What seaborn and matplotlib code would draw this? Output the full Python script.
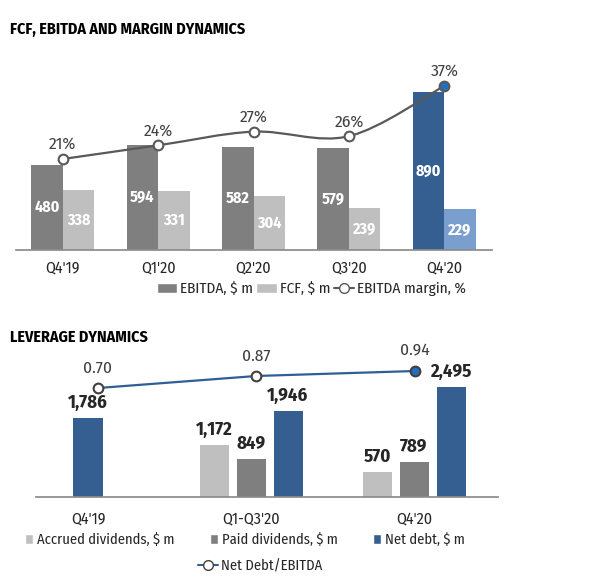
import numpy as np
import pandas as pd
import matplotlib
matplotlib.use("Agg")
import matplotlib.pyplot as plt
from matplotlib import font_manager
from matplotlib.path import Path
from matplotlib.patches import PathPatch, Patch
from matplotlib.lines import Line2D
import seaborn as sns

# top chart data
quarters = ["Q4'19", "Q1'20", "Q2'20", "Q3'20", "Q4'20"]
ebitda = [480, 594, 582, 579, 890]
fcf = [338, 331, 304, 239, 229]
margin = [21, 24, 27, 26, 37]

# bottom chart data
periods = ["Q4'19", "Q1-Q3'20", "Q4'20"]
accrued = [np.nan, 1172, 570]
paid = [np.nan, 849, 789]
net_debt = [1786, 1946, 2495]
leverage = [0.70, 0.87, 0.94]

GREY = "#7f7f7f"
LIGHT = "#bfbfbf"
BLUE = "#365f91"
LIGHTBLUE = "#7a9fcf"
LINE_GREY = "#595959"
LINE_BLUE = "#2f5f97"
DOT_BLUE = "#2170c0"
TXT = "#262626"
LBL = "#404040"

sns.set_theme(style="white")
installed = {f.name for f in font_manager.fontManager.ttflist}
FONT = "Fira Sans Condensed" if "Fira Sans Condensed" in installed else "Liberation Sans"
plt.rcParams["font.family"] = [FONT, "DejaVu Sans"]

W, H = 590, 584
fig = plt.figure(figsize=(W / 100, H / 100), dpi=100)


def px_rect(left, top, right, bottom):
    return [left / W, 1 - bottom / H, (right - left) / W, (bottom - top) / H]


def smooth_path(xs, ys):
    # excel-like smoothed line: catmull-rom segments as cubic beziers
    pts = np.column_stack([xs, ys]).astype(float)
    verts = [pts[0]]
    codes = [Path.MOVETO]
    n = len(pts)
    for i in range(n - 1):
        p0 = pts[i - 1] if i > 0 else pts[i]
        p3 = pts[i + 2] if i + 2 < n else pts[i + 1]
        c1 = pts[i] + (pts[i + 1] - p0) / 6
        c2 = pts[i + 1] - (p3 - pts[i]) / 6
        verts += [c1, c2, pts[i + 1]]
        codes += [Path.CURVE4] * 3
    return Path(verts, codes)


def clean(ax):
    for s in ["left", "right", "top"]:
        ax.spines[s].set_visible(False)
    ax.set_yticks([])
    ax.set_xlabel("")
    ax.set_ylabel("")


# ---------- FCF, EBITDA and margin ----------
ax1 = fig.add_axes(px_rect(16, 50, 492, 250))
top = pd.DataFrame({
    "quarter": quarters * 2,
    "value": ebitda + fcf,
    "series": ["EBITDA, $ m"] * 5 + ["FCF, $ m"] * 5,
})
sns.barplot(data=top, x="quarter", y="value", hue="series", palette=[GREY, LIGHT],
            width=0.66, gap=0, saturation=1, linewidth=0, legend=False, ax=ax1)
ax1.containers[0][4].set_facecolor(BLUE)
ax1.containers[1][4].set_facecolor(LIGHTBLUE)
for c, vals in zip(ax1.containers, [ebitda, fcf]):
    ax1.bar_label(c, labels=[str(v) for v in vals], label_type="center",
                  color="white", fontsize=11.5, fontweight="bold")
ax1.set_xlim(-0.49, 4.5)
ax1.set_ylim(0, 1130)
clean(ax1)
ax1.spines["bottom"].set_color("#8c8c8c")
ax1.tick_params(axis="x", length=0, pad=7, labelsize=11.5, labelcolor=TXT)

ax1b = ax1.twinx()
ax1b.set_ylim(1.05, 44.9)
ax1b.axis("off")
xs = np.arange(len(margin))
ax1b.add_patch(PathPatch(smooth_path(xs, margin), fill=False, edgecolor=LINE_GREY, lw=1.6))
ax1b.plot(xs[:-1], margin[:-1], ls="none", marker="o", ms=7, mfc="white", mec=LINE_GREY, mew=1.5)
ax1b.plot(xs[-1:], margin[-1:], ls="none", marker="o", ms=7, mfc=DOT_BLUE, mec=LINE_GREY, mew=1.5)
for x, m in zip(xs, margin):
    ax1b.annotate(f"{m}%", (x, m), xytext=(0, 10.5), textcoords="offset points",
                  ha="center", va="center", fontsize=12.5, color=LBL)

fig.legend(
    [Patch(fc=GREY), Patch(fc=LIGHT),
     Line2D([], [], color=LINE_GREY, lw=1.5, marker="o", ms=7, mfc="white", mec=LINE_GREY)],
    ["EBITDA, $ m", "FCF, $ m", "EBITDA margin, %"],
    loc="center", bbox_to_anchor=(311.5 / W, 1 - 289 / H), ncol=3, frameon=False,
    fontsize=11, handlelength=1.35, handleheight=0.65, handletextpad=0.2,
    columnspacing=0.2, borderpad=0, labelcolor=TXT)

fig.text(10 / W, 1 - 29 / H, "FCF, EBITDA AND MARGIN DYNAMICS", fontsize=11.5,
         fontweight="bold", va="center", color="black")

# ---------- Leverage ----------
ax2 = fig.add_axes(px_rect(36, 340, 498, 497))
series = [accrued, paid, net_debt]
colors = [LIGHT, GREY, BLUE]
bw, pitch = 0.178, 0.227
for i in range(len(periods)):
    present = [k for k, s in enumerate(series) if not np.isnan(s[i])]
    offsets = (np.arange(len(present)) - (len(present) - 1) / 2) * pitch
    for k, off in zip(present, offsets):
        v = series[k][i]
        ax2.bar(i + off, v, width=bw, color=colors[k], linewidth=0)
        ax2.annotate(f"{v:,.0f}", (i + off, v), xytext=(0, 11), textcoords="offset points",
                     ha="center", va="center", fontsize=13.5, fontweight="bold", color=TXT)
ax2.set_xticks(range(len(periods)), periods)
ax2.set_xlim(-0.319, 2.515)
ax2.set_ylim(0, 3552)
clean(ax2)
ax2.spines["bottom"].set_color("#8c8c8c")
ax2.tick_params(axis="x", length=0, pad=10, labelsize=11.5, labelcolor=TXT)

ax3 = fig.add_axes(px_rect(36, 340, 498, 497))
ax3.patch.set_alpha(0)
lx = np.arange(len(leverage))
sns.lineplot(x=lx, y=leverage, color=LINE_BLUE, lw=1.6, ax=ax3)
ax3.plot(lx[:-1], leverage[:-1], ls="none", marker="o", ms=7, mfc="white", mec=LBL, mew=1.5)
ax3.plot(lx[-1:], leverage[-1:], ls="none", marker="o", ms=7, mfc=DOT_BLUE, mec=LBL, mew=1.5)
for x, v in zip(lx, leverage):
    ax3.annotate(f"{v:.2f}", (x, v), xytext=(0, 14.4), textcoords="offset points",
                 ha="center", va="center", fontsize=12.5, color=LBL)
ax3.set_xlim(-0.391, 2.524)
ax3.set_ylim(-0.839, 1.378)
ax3.axis("off")

fig.legend(
    [Patch(fc=LIGHT), Patch(fc=GREY), Patch(fc=BLUE)],
    ["Accrued dividends, $ m", "Paid dividends, $ m", "Net debt, $ m"],
    loc="center", bbox_to_anchor=(245 / W, 1 - 540 / H), ncol=3, frameon=False,
    fontsize=10.5, handlelength=0.55, handleheight=0.75, handletextpad=0.3,
    columnspacing=2.4, borderpad=0, labelcolor=TXT)
fig.legend(
    [Line2D([], [], color=LINE_BLUE, lw=1.5, marker="o", ms=7, mfc="white", mec=LBL)],
    ["Net Debt/EBITDA"],
    loc="center", bbox_to_anchor=(260 / W, 1 - 566 / H), frameon=False,
    fontsize=10.5, handlelength=1.4, handletextpad=0.2, borderpad=0, labelcolor=TXT)

fig.text(10 / W, 1 - 337 / H, "LEVERAGE DYNAMICS", fontsize=11.5,
         fontweight="bold", va="center", color="black")

fig.savefig("out.png", dpi=100)
